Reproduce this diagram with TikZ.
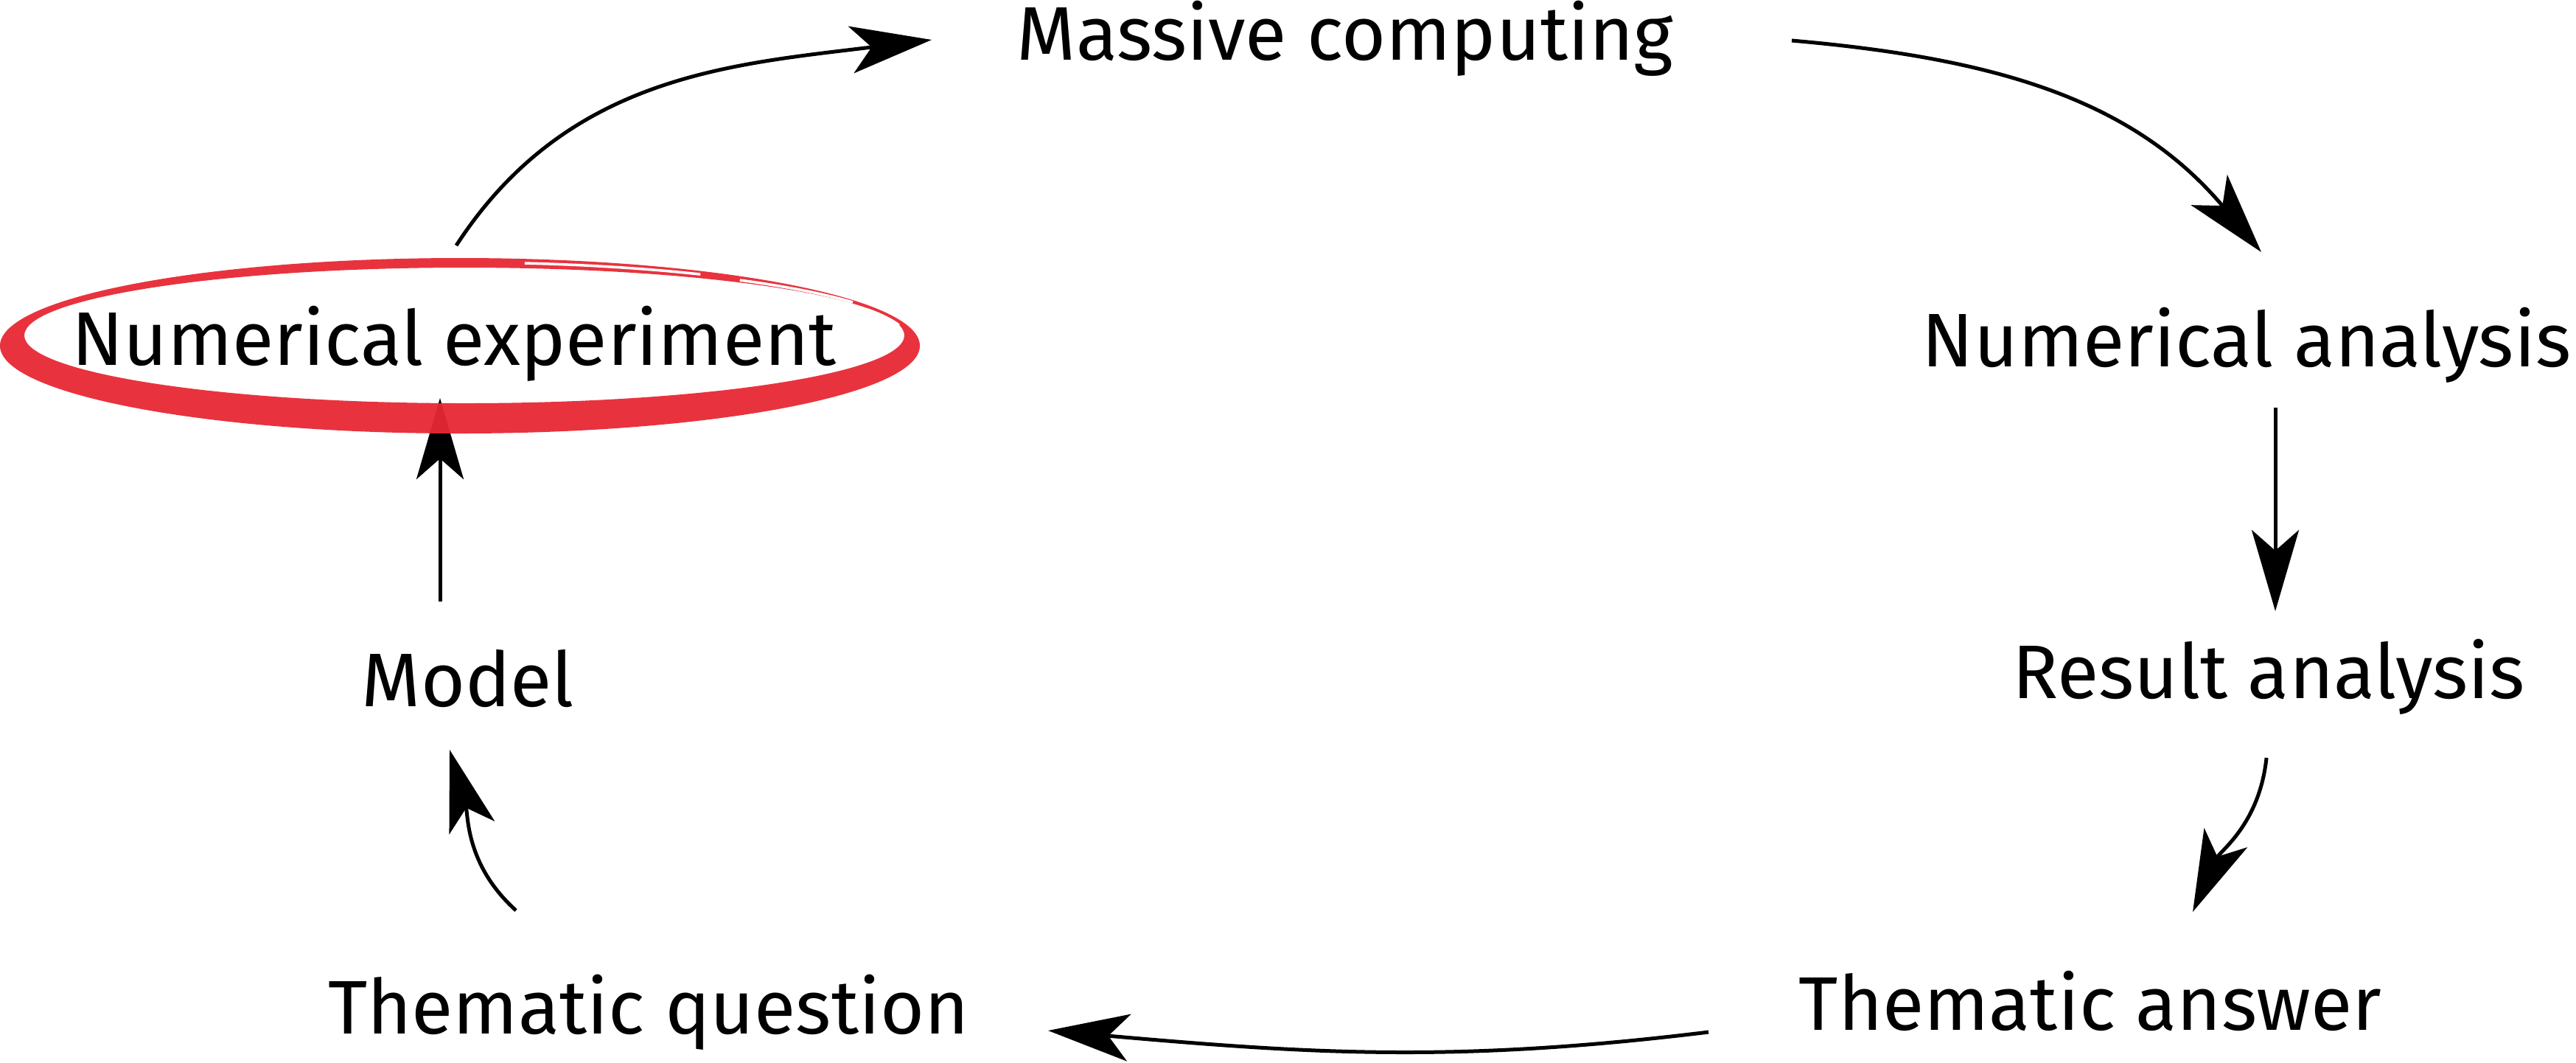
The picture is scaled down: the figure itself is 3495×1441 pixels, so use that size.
\documentclass[tikz,border=0pt]{standalone}
\usepackage{fontspec}
\setmainfont{Fira Sans}
\usepackage{xcolor}
\usetikzlibrary{arrows.meta, calc}
\definecolor{brushred}{RGB}{231,40,52}
\tikzset{
  stage/.style   = {anchor=base, inner sep=0pt,
                    font=\fontsize{29.3pt}{35pt}\selectfont},  % cycle labels
  conn/.style    = {-{Stealth[length=1.1cm, width=0.64cm, inset=0.28cm]},
                    line width=0.05cm},                          % thin black arrows
  brush/.style   = {fill=brushred, even odd rule, opacity=0.95}, % red circling mark
  streak/.style  = {white, line width=0.035cm}                   % dry brush gaps
}

\begin{document}
\begin{tikzpicture}[x=0.01cm, y=0.01cm]
  \useasboundingbox (0,0) rectangle (3495,-1441);
  % labels
  \node[stage] (mc) at (1825,-81)  {Massive computing};
  \node[stage] (na) at (3048,-497) {Numerical analysis};
  \node[stage] (ra) at (3078,-947) {Result analysis};
  \node[stage] (ta) at (2836,-1397) {Thematic answer};
  \node[stage] (tq) at (880,-1402) {Thematic question};
  \node[stage] (mo) at (635,-958)  {Model};
  \node[stage] (ne) at (616,-495)  {Numerical experiment};
  % connectors
  \draw[conn] ($(ne.base)+(3,162)$) to[out=57, in=187] ($(mc.base)+(-561,27)$);
  \draw[conn] ($(mc.base)+(606,26)$) to[out=-5, in=130] ($(na.base)+(20,155)$);
  \draw[conn] ($(na.base)+(39,-56)$) -- ($(ra.base)+(9,118)$);
  \draw[conn] ($(ra.base)+(-3,-81)$) to[out=-96, in=66] ($(ta.base)+(139,160)$);
  \draw[conn] ($(ta.base)+(-518,-3)$) to[out=-173, in=-5] ($(tq.base)+(542,4)$);
  \draw[conn] ($(tq.base)+(-180,167)$) to[out=138, in=-74] ($(mo.base)+(-25,-59)$);
  \draw[conn] ($(mo.base)+(-38,142)$) -- ($(ne.base)+(-19,-45)$);
  % red mark round the experiment
  \fill[brush] (624,-469) ellipse [x radius=624, y radius=119]
               (630,-455) ellipse [x radius=597, y radius=92];
  \draw[streak] (627,-462) ++(82:610 and 106) arc [start angle=82, end angle=58, x radius=610, y radius=106];
  \draw[streak] (627,-462) ++(52:612 and 104) arc [start angle=52, end angle=30, x radius=612, y radius=104];
  \draw[streak] (627,-462) ++(25:606 and 100) arc [start angle=25, end angle=12, x radius=606, y radius=100];
\end{tikzpicture}
\end{document}
